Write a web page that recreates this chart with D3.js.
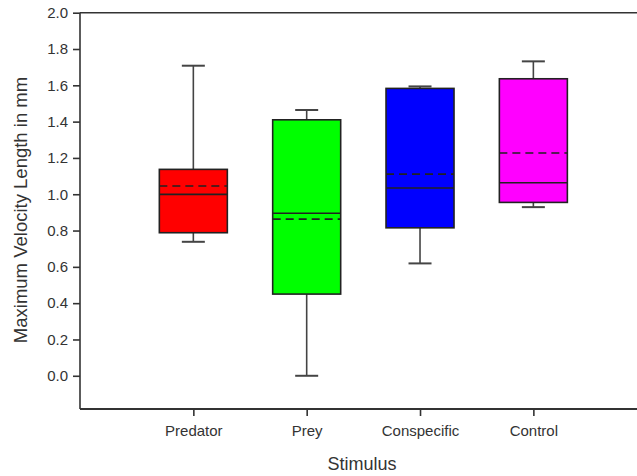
<!doctype html>
<html>
<head>
<meta charset="utf-8">
<style>
  body { margin: 0; background: #fff; }
  svg text { font-family: "Liberation Sans", Arial, sans-serif; fill: #333; }
</style>
</head>
<body>
<div id="chart"></div>
<script src="https://cdn.jsdelivr.net/npm/d3@7/dist/d3.min.js"></script>
<script>
var categories = ["Predator", "Prey", "Conspecific", "Control"];
var colors     = ["#ff0000", "#00ff00", "#0000ff", "#ff00ff"];
var whiskerLow = [0.738, 0.000, 0.619, 0.929];
var q1         = [0.788, 0.450, 0.815, 0.955];
var median     = [0.999, 0.895, 1.034, 1.063];
var mean       = [1.045, 0.863, 1.111, 1.227];
var q3         = [1.137, 1.410, 1.583, 1.636];
var whiskerHigh= [1.708, 1.464, 1.594, 1.732];
var yTicks = [0, 0.2, 0.4, 0.6, 0.8, 1.0, 1.2, 1.4, 1.6, 1.8, 2.0];

var w = 637, h = 476;
var plotLeft = 80, plotTop = 12.7, plotBottom = 409;

var svg = d3.select("#chart").append("svg")
  .attr("width", w).attr("height", h);

var y = d3.scaleLinear().domain([-0.183, 2.0]).range([plotBottom, plotTop]);
var x = d3.scalePoint().domain(categories).range([plotLeft, 646.7]).padding(1);

var boxW = 68, capW = 23;

var data = categories.map(function(c, i) {
  return { name: c, color: colors[i], lo: whiskerLow[i], q1: q1[i], med: median[i],
           mean: mean[i], q3: q3[i], hi: whiskerHigh[i] };
});

var g = svg.selectAll(".box").data(data).enter().append("g");

// whiskers
g.append("line")
  .attr("x1", d => x(d.name)).attr("x2", d => x(d.name))
  .attr("y1", d => y(d.q3)).attr("y2", d => y(d.hi))
  .attr("stroke", "#444").attr("stroke-width", 1.6);
g.append("line")
  .attr("x1", d => x(d.name)).attr("x2", d => x(d.name))
  .attr("y1", d => y(d.q1)).attr("y2", d => y(d.lo))
  .attr("stroke", "#444").attr("stroke-width", 1.6);
g.append("line")
  .attr("x1", d => x(d.name) - capW/2).attr("x2", d => x(d.name) + capW/2)
  .attr("y1", d => y(d.hi)).attr("y2", d => y(d.hi))
  .attr("stroke", "#444").attr("stroke-width", 2);
g.append("line")
  .attr("x1", d => x(d.name) - capW/2).attr("x2", d => x(d.name) + capW/2)
  .attr("y1", d => y(d.lo)).attr("y2", d => y(d.lo))
  .attr("stroke", "#444").attr("stroke-width", 2);

// boxes
g.append("rect")
  .attr("x", d => x(d.name) - boxW/2).attr("width", boxW)
  .attr("y", d => y(d.q3)).attr("height", d => y(d.q1) - y(d.q3))
  .attr("fill", d => d.color).attr("stroke", "#222").attr("stroke-width", 1.6);

// median
g.append("line")
  .attr("x1", d => x(d.name) - boxW/2).attr("x2", d => x(d.name) + boxW/2)
  .attr("y1", d => y(d.med)).attr("y2", d => y(d.med))
  .attr("stroke", "#222").attr("stroke-width", 1.6);
// mean (dashed)
g.append("line")
  .attr("x1", d => x(d.name) - boxW/2).attr("x2", d => x(d.name) + boxW/2)
  .attr("y1", d => y(d.mean)).attr("y2", d => y(d.mean))
  .attr("stroke", "#222").attr("stroke-width", 1.6)
  .attr("stroke-dasharray", "8,5");

// frame
svg.append("line").attr("x1", plotLeft).attr("x2", w).attr("y1", plotTop).attr("y2", plotTop)
  .attr("stroke", "#333").attr("stroke-width", 1.6);

var yAxis = svg.append("g").attr("transform", "translate(" + plotLeft + ",0)")
  .call(d3.axisLeft(y).tickValues(yTicks).tickSize(7).tickPadding(5)
    .tickFormat(d3.format(".1f")));
yAxis.select(".domain").attr("d", "M0," + plotTop + "V" + plotBottom).attr("stroke", "#333").attr("stroke-width", 1.6);
yAxis.selectAll(".tick line").attr("stroke", "#333").attr("stroke-width", 1.6);
yAxis.selectAll("text").style("font-size", "15px").attr("fill", "#333");

var xAxis = svg.append("g").attr("transform", "translate(0," + plotBottom + ")")
  .call(d3.axisBottom(x).tickSize(7).tickPadding(9));
xAxis.select(".domain").attr("d", "M" + plotLeft + ",0H" + w).attr("stroke", "#333").attr("stroke-width", 2);
xAxis.selectAll(".tick line").attr("y1", 0).attr("y2", 7).attr("stroke", "#333").attr("stroke-width", 1.6);
xAxis.selectAll("text").style("font-size", "15px").attr("fill", "#333");

svg.append("text")
  .attr("x", 362).attr("y", 470)
  .attr("text-anchor", "middle")
  .style("font-size", "18px")
  .text("Stimulus");

svg.append("text")
  .attr("transform", "translate(27,210) rotate(-90)")
  .attr("text-anchor", "middle")
  .style("font-size", "18.5px")
  .text("Maximum Velocity Length in mm");
</script>
</body>
</html>
